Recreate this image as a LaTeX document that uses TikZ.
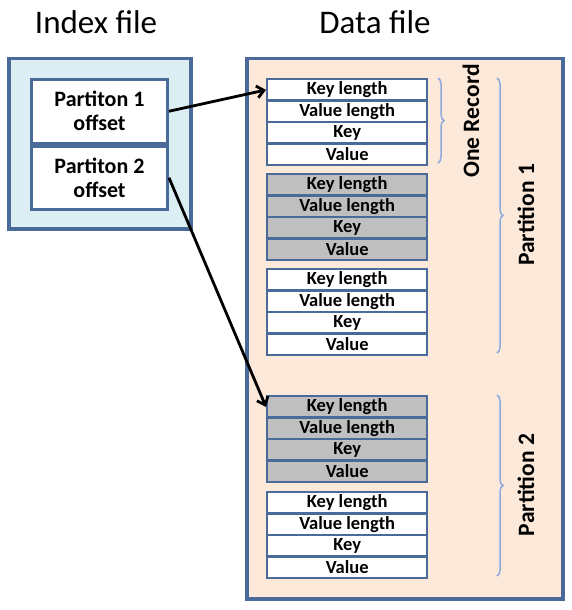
\documentclass[tikz,border=0pt]{standalone}
\usepackage{fontspec}
\setmainfont{Carlito}
\usetikzlibrary{arrows.meta,decorations.pathreplacing,positioning}
\definecolor{boxblue}{HTML}{4A6B99}
\definecolor{idxfill}{HTML}{DBEEF4}
\definecolor{datfill}{HTML}{FDE9D9}
\definecolor{rowgray}{HTML}{BFBFBF}
\definecolor{bracecol}{HTML}{8EA9DB}
\begin{document}
\begin{tikzpicture}[x=1pt,y=-1pt,
    frame/.style={draw=boxblue,line width=3.5pt,anchor=north west,inner sep=0pt},
    cell/.style={draw=boxblue,line width=3pt,fill=white,minimum width=136pt,minimum height=63.5pt,
        inner sep=0pt,align=center,font=\bfseries\fontsize{22}{24}\selectfont},
    row/.style={draw=boxblue,line width=2.4pt,minimum width=160pt,minimum height=21.4pt,
        inner sep=0pt,anchor=north west,font=\bfseries\fontsize{18.5}{18.5}\selectfont},
    sidebrace/.style={decorate,decoration={brace,amplitude=6pt},draw=bracecol,line width=1.5pt},
    sidelabel/.style={rotate=90,font=\bfseries\fontsize{23.5}{23.5}\selectfont},
    pointer/.style={line width=2.8pt,-{Straight Barb[length=7pt,width=12pt]}}]
    \useasboundingbox (0,0) rectangle (572,610);

    % titles
    \node[font=\fontsize{33}{33}\selectfont] (idxtitle) at (96,22) {Index file};
    \node[font=\fontsize{33}{33}\selectfont] (dattitle) at (375,22) {Data file};

    % index file
    \node[frame,fill=idxfill,minimum width=182pt,minimum height=170pt] (index) at (7,57) {};
    \node[cell,anchor=north west] (p1) at (30,78) {Partiton 1\\offset};
    \node[cell,below=0pt of p1] (p2) {Partiton 2\\offset};

    % data file
    \node[frame,fill=datfill,minimum width=316pt,minimum height=540pt] (data) at (245,57) {};
    \foreach \r/\top/\shade in {1/78/white,2/173/rowgray,3/268/white,4/395/rowgray,5/491/white}{
        \foreach \lab [count=\i] in {Key length,Value length,Key,Value}
            \node[row,fill=\shade] (rec\r-\i) at (266,{\top+21.4*(\i-1)}) {\lab};
    }

    % braces
    \draw[sidebrace] (438,78) -- (438,163);
    \node[sidelabel] (onerec) at (471,121) {One Record};
    \draw[sidebrace] (497,78) -- (497,353);
    \node[sidelabel] (part1) at (526,215) {Partition 1};
    \draw[sidebrace] (497,395) -- (497,576);
    \node[sidelabel] (part2) at (526,485) {Partition 2};

    % offsets
    \draw[pointer] (p1.east) -- (rec1-1.west);
    \draw[pointer] (p2.east) -- (rec4-1.west);
\end{tikzpicture}
\end{document}
